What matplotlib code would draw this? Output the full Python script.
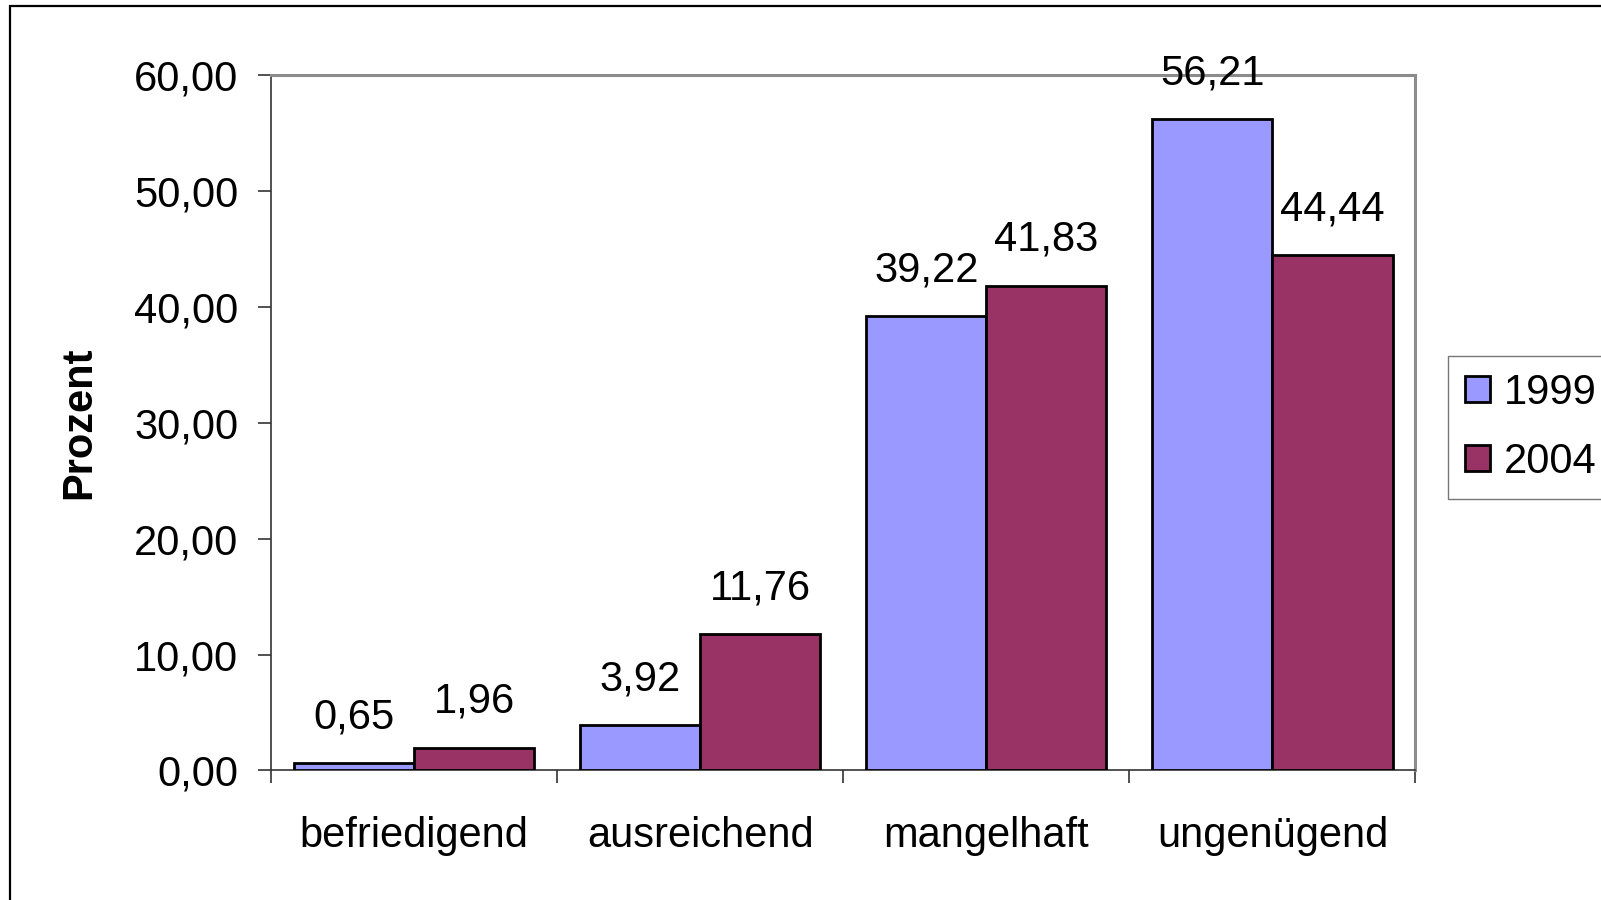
import matplotlib.pyplot as plt
from matplotlib.patches import Rectangle
from matplotlib.ticker import FuncFormatter, FixedLocator

plt.rcParams['font.family'] = ['Liberation Sans', 'DejaVu Sans']

# Noten-Verteilung in Prozent
kategorien = ["befriedigend", "ausreichend", "mangelhaft", "ungenügend"]
werte_1999 = [0.65, 3.92, 39.22, 56.21]
werte_2004 = [1.96, 11.76, 41.83, 44.44]
jahre = ["1999", "2004"]
farben = ["#9999ff", "#993366"]

fig = plt.figure(figsize=(16.01, 9), dpi=100)
ax = fig.add_axes([0.1693, 0.1439, 0.7148, 0.7728])

x = list(range(len(kategorien)))
breite = 0.42
b1 = ax.bar([i - breite / 2 for i in x], werte_1999, breite, color=farben[0],
            edgecolor="black", linewidth=2.0, label=jahre[0], zorder=3)
b2 = ax.bar([i + breite / 2 for i in x], werte_2004, breite, color=farben[1],
            edgecolor="black", linewidth=2.0, label=jahre[1], zorder=3)

def komma(v):
    return ("%.2f" % v).replace(".", ",")

for bars, werte in ((b1, werte_1999), (b2, werte_2004)):
    for b, v in zip(bars, werte):
        ax.annotate(komma(v), (b.get_x() + b.get_width() / 2, v),
                    xytext=(0, 33), textcoords="offset points",
                    ha="center", va="center", fontsize=30, zorder=5,
                    annotation_clip=False)

ax.set_xlim(-0.5, 3.5)
ax.set_ylim(0, 60)
ax.set_yticks(range(0, 61, 10))
ax.yaxis.set_major_formatter(FuncFormatter(lambda v, p: komma(v)))
ax.set_xticks(x)
ax.set_xticklabels(kategorien)
ax.xaxis.set_minor_locator(FixedLocator([-0.5, 0.5, 1.5, 2.5, 3.5]))
ax.tick_params(axis="x", which="major", length=0, pad=33, labelsize=30)
ax.tick_params(axis="x", which="minor", length=9.5, width=1.2, direction="out", color="#333333")
ax.tick_params(axis="y", length=9.5, width=1.2, direction="out", pad=14, labelsize=30, color="#333333")

ax.set_ylabel("Prozent", fontsize=30, fontweight="bold")
ax.yaxis.set_label_coords(-0.150, 0.5)

for s in ("top", "right"):
    ax.spines[s].set_color("#8c8c8c")
    ax.spines[s].set_linewidth(2.2)
for s in ("left", "bottom"):
    ax.spines[s].set_color("#333333")
    ax.spines[s].set_linewidth(1.2)

leg = fig.legend(handles=[b1, b2], labels=jahre, loc="upper left",
                 bbox_to_anchor=(1448 / 1601, 1 - 356 / 900), fontsize=30,
                 frameon=True, fancybox=False, edgecolor="#555555",
                 handlelength=0.6, handleheight=0.6, handletextpad=0.35,
                 labelspacing=0.7, borderpad=0.4, borderaxespad=0)
leg.get_frame().set_linewidth(1.0)

# Rahmen um das Diagramm (rechts und unten abgeschnitten)
fig.add_artist(Rectangle((9.5 / 1601, -0.05), 1.1, 0.9933 + 0.05,
                         transform=fig.transFigure, fill=False,
                         edgecolor="black", linewidth=1.6))

plt.savefig("out.png", dpi=100)
